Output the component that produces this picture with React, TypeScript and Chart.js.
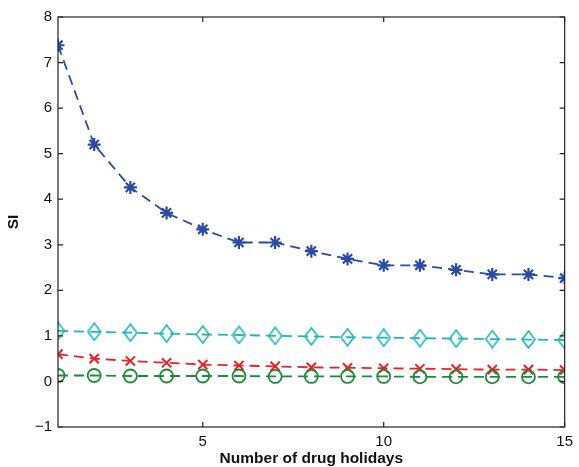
import React, { useEffect, useRef } from "react";
import { Chart, registerables } from "chart.js";

Chart.register(...registerables);

// Number of drug holidays (x) and SI values per series
const holidays = [1, 2, 3, 4, 5, 6, 7, 8, 9, 10, 11, 12, 13, 14, 15];
const siStar = [7.38, 5.2, 4.26, 3.7, 3.34, 3.05, 3.05, 2.86, 2.69, 2.55, 2.55, 2.45, 2.35, 2.35, 2.27];
const siDiamond = [1.11, 1.09, 1.07, 1.05, 1.03, 1.02, 1.0, 0.99, 0.97, 0.96, 0.95, 0.94, 0.93, 0.92, 0.91];
const siCross = [0.6, 0.5, 0.45, 0.41, 0.37, 0.35, 0.33, 0.31, 0.3, 0.29, 0.28, 0.27, 0.26, 0.26, 0.25];
const siCircle = [0.13, 0.13, 0.12, 0.12, 0.12, 0.12, 0.11, 0.11, 0.11, 0.11, 0.1, 0.1, 0.1, 0.1, 0.1];

const xTicks = [5, 10, 15];
const yTicks = [-1, 0, 1, 2, 3, 4, 5, 6, 7, 8];

const BLUE = "#2b4aa6";
const CYAN = "#22b5b8";
const RED = "#e8222c";
const GREEN = "#1d8a3c";

function makeDiamond(color: string): HTMLCanvasElement {
  const w = 15;
  const h = 19;
  const c = document.createElement("canvas");
  c.width = w;
  c.height = h;
  const ctx = c.getContext("2d")!;
  ctx.strokeStyle = color;
  ctx.lineWidth = 1.6;
  ctx.beginPath();
  ctx.moveTo(w / 2, 1);
  ctx.lineTo(w - 1, h / 2);
  ctx.lineTo(w / 2, h - 1);
  ctx.lineTo(1, h / 2);
  ctx.closePath();
  ctx.stroke();
  return c;
}

// Box around the plot with inward tick marks on all four sides
const boxPlugin = {
  id: "boxTicks",
  afterDraw(chart: any) {
    const { ctx, chartArea } = chart;
    const { left, right, top, bottom } = chartArea;
    const xs = chart.scales.x;
    const ys = chart.scales.y;
    const len = 5;
    ctx.save();
    ctx.strokeStyle = "#222";
    ctx.lineWidth = 1.2;
    ctx.strokeRect(left, top, right - left, bottom - top);
    ctx.beginPath();
    for (const v of xTicks) {
      const px = xs.getPixelForValue(v);
      ctx.moveTo(px, bottom);
      ctx.lineTo(px, bottom - len);
      ctx.moveTo(px, top);
      ctx.lineTo(px, top + len);
    }
    for (const v of yTicks) {
      const py = ys.getPixelForValue(v);
      ctx.moveTo(left, py);
      ctx.lineTo(left + len, py);
      ctx.moveTo(right, py);
      ctx.lineTo(right - len, py);
    }
    ctx.stroke();
    ctx.restore();
  },
};

export default function App() {
  const ref = useRef<HTMLCanvasElement | null>(null);

  useEffect(() => {
    if (!ref.current) return;
    const pts = (vals: number[]) => holidays.map((x, i) => ({ x, y: vals[i] }));
    const common = {
      borderWidth: 1.8,
      borderDash: [10, 6],
      fill: false,
      tension: 0,
      pointBorderWidth: 1.8,
      pointBackgroundColor: "rgba(0,0,0,0)",
    };
    const family = "'Liberation Sans', Arial, sans-serif";
    const tickFont = { family, size: 15 };
    const titleFont = { family, size: 15.5, weight: "bold" };
    const minus = (v: any) => String(v).replace("-", "\u2212");
    const chart = new Chart(ref.current, {
      type: "line",
      data: {
        datasets: [
          { ...common, data: pts(siCircle), borderColor: GREEN, pointBorderColor: GREEN, pointStyle: "circle", pointRadius: 6.5 },
          { ...common, data: pts(siCross), borderColor: RED, pointBorderColor: RED, pointStyle: "crossRot", pointRadius: 6.5, pointBorderWidth: 2 },
          { ...common, data: pts(siDiamond), borderColor: CYAN, pointBorderColor: CYAN, pointStyle: makeDiamond(CYAN) as any },
          { ...common, data: pts(siStar), borderColor: BLUE, pointBorderColor: BLUE, pointStyle: "star", pointRadius: 6.5, pointBorderWidth: 2.2 },
        ],
      },
      options: {
        responsive: false,
        animation: false,
        layout: { padding: { left: 0, right: 9, top: 17, bottom: 0 } },
        plugins: { legend: { display: false }, tooltip: { enabled: false } },
        scales: {
          x: {
            type: "linear",
            min: 1,
            max: 15,
            afterFit: (s: any) => { s.height = 40; },
            afterBuildTicks: (s: any) => { s.ticks = xTicks.map((v) => ({ value: v })); },
            grid: { display: false, drawTicks: false },
            border: { display: false },
            ticks: { color: "#111", font: tickFont, padding: 6, maxRotation: 0, callback: minus },
            title: {
              display: true,
              text: "Number of drug holidays",
              color: "#111",
              font: titleFont,
              padding: { top: 0, bottom: -1 },
            },
          },
          y: {
            type: "linear",
            min: -1,
            max: 8,
            afterFit: (s: any) => { s.width = 58; },
            afterBuildTicks: (s: any) => { s.ticks = yTicks.map((v) => ({ value: v })); },
            grid: { display: false, drawTicks: false },
            border: { display: false },
            ticks: { color: "#111", font: tickFont, padding: 6, callback: minus },
            title: {
              display: true,
              text: "SI",
              color: "#111",
              font: titleFont,
              padding: { top: 4, bottom: 0 },
            },
          },
        },
      },
      plugins: [boxPlugin],
    } as any);
    return () => chart.destroy();
  }, []);

  return (
    <div style={{ position: "fixed", left: 0, top: 0, width: 579, height: 467, background: "#fff" }}>
      <canvas ref={ref} width={579} height={467} />
    </div>
  );
}
